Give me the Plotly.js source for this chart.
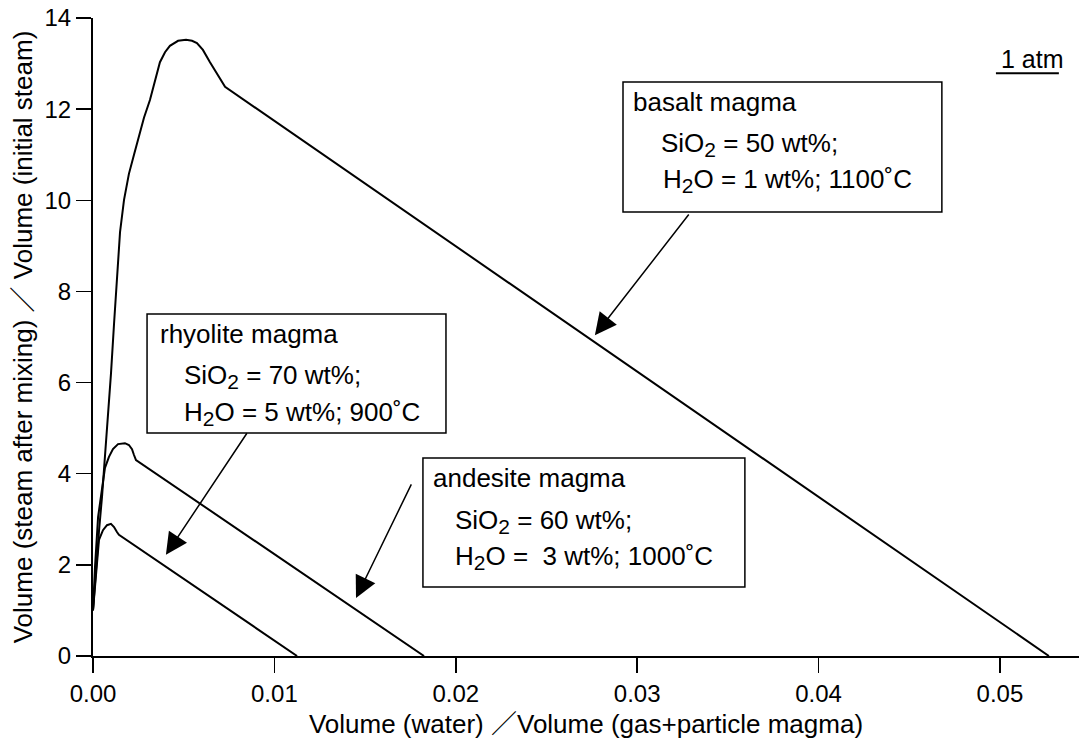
<!DOCTYPE html>
<html>
<head>
<meta charset="utf-8">
<script src="https://cdn.plot.ly/plotly-3.0.1.min.js"></script>
<style>html,body{margin:0;padding:0;background:#fff;}</style>
</head>
<body>
<div id="chart" style="width:1079px;height:747px;"></div>
<script>
// Basalt magma: SiO2 = 50 wt%, H2O = 1 wt%, 1100 C
const basaltX = [0, 0.000165, 0.00033, 0.0005, 0.00066, 0.00083, 0.00099, 0.00116, 0.00132, 0.00149, 0.00171, 0.00198, 0.00226, 0.00248, 0.00281, 0.00314, 0.00342, 0.00369, 0.00397, 0.00424, 0.00469, 0.00513, 0.00546, 0.00573, 0.00606, 0.00645, 0.00728, 0.0527];
const basaltY = [1.01, 1.98, 2.74, 3.51, 4.32, 5.18, 6.19, 7.29, 8.38, 9.30, 10.01, 10.58, 11.00, 11.32, 11.81, 12.20, 12.64, 13.03, 13.25, 13.39, 13.50, 13.52, 13.50, 13.45, 13.30, 13.03, 12.49, 0];

// Andesite magma: SiO2 = 60 wt%, H2O = 3 wt%, 1000 C
const andesiteX = [0, 0.00011, 0.00028, 0.0005, 0.00066, 0.00088, 0.0011, 0.00138, 0.00176, 0.00198, 0.00215, 0.00226, 0.00237, 0.01825];
const andesiteY = [1.0, 1.95, 3.05, 3.71, 4.13, 4.37, 4.54, 4.65, 4.67, 4.63, 4.54, 4.41, 4.30, 0];

// Rhyolite magma: SiO2 = 70 wt%, H2O = 5 wt%, 900 C
const rhyoliteX = [0, 0.00011, 0.00022, 0.00033, 0.00055, 0.00077, 0.00099, 0.00116, 0.00132, 0.00143, 0.01125];
const rhyoliteY = [1.0, 1.56, 2.11, 2.55, 2.76, 2.87, 2.90, 2.83, 2.72, 2.66, 0];

const xTickVals = [0, 0.01, 0.02, 0.03, 0.04, 0.05];
const xTickText = ['0.00', '0.01', '0.02', '0.03', '0.04', '0.05'];
const yTickVals = [0, 2, 4, 6, 8, 10, 12, 14];
const yTickText = ['0', '2', '4', '6', '8', '10', '12', '14'];

const SUB2 = '<sub><span style="font-size:21px">2</span></sub>';
const basaltLines = ['basalt magma', 'SiO' + SUB2 + ' = 50 wt%;', 'H' + SUB2 + 'O = 1 wt%; 1100˚C'];
const rhyoliteLines = ['rhyolite magma', 'SiO' + SUB2 + ' = 70 wt%;', 'H' + SUB2 + 'O = 5 wt%; 900˚C'];
const andesiteLines = ['andesite magma', 'SiO' + SUB2 + ' = 60 wt%;', 'H' + SUB2 + 'O =\u00a0 3 wt%; 1000˚C'];

const FONT = 'Liberation Sans, Arial, Helvetica, "Noto Sans CJK JP", sans-serif';
const lineStyle = {color: '#000', width: 2};

const traces = [
  {x: basaltX, y: basaltY, mode: 'lines', line: lineStyle, name: 'basalt', hoverinfo: 'skip'},
  {x: andesiteX, y: andesiteY, mode: 'lines', line: lineStyle, name: 'andesite', hoverinfo: 'skip'},
  {x: rhyoliteX, y: rhyoliteY, mode: 'lines', line: lineStyle, name: 'rhyolite', hoverinfo: 'skip'}
];

function textAnn(text, x, y) {
  return {text: text, x: x, y: y, xref: 'x', yref: 'y', xanchor: 'left', yanchor: 'middle',
          showarrow: false, font: {family: FONT, size: 26, color: '#000'}};
}
function arrowAnn(tipX, tipY, tailX, tailY) {
  return {text: '', x: tipX, y: tipY, ax: tailX, ay: tailY, xref: 'x', yref: 'y', axref: 'x', ayref: 'y',
          showarrow: true, arrowhead: 2, arrowsize: 2.9, arrowwidth: 1.5, arrowcolor: '#000', standoff: 0};
}

const annotations = [
  textAnn(basaltLines[0], 0.02966, 12.157),
  textAnn(basaltLines[1], 0.03120, 11.235),
  textAnn(basaltLines[2], 0.03131, 10.424),
  textAnn(rhyoliteLines[0], 0.00358, 7.066),
  textAnn(rhyoliteLines[1], 0.00491, 6.144),
  textAnn(rhyoliteLines[2], 0.00491, 5.332),
  textAnn(andesiteLines[0], 0.01863, 3.906),
  textAnn(andesiteLines[1], 0.01985, 2.962),
  textAnn(andesiteLines[2], 0.01985, 2.172),
  {text: '1 atm', x: 0.04995, y: 13.11, xref: 'x', yref: 'y', xanchor: 'left', yanchor: 'middle',
   showarrow: false, font: {family: FONT, size: 25, color: '#000'}},
  arrowAnn(0.02767, 7.04, 0.03291, 9.72),
  arrowAnn(0.00402, 2.22, 0.00854, 4.92),
  arrowAnn(0.0145, 1.27, 0.01759, 3.80)
];

const boxLine = {color: '#000', width: 1.5};
const shapes = [
  {type: 'rect', xref: 'x', yref: 'y', x0: 0.02922, x1: 0.04680, y0: 9.743, y1: 12.596, line: boxLine, fillcolor: 'rgba(0,0,0,0)'},
  {type: 'rect', xref: 'x', yref: 'y', x0: 0.00298, x1: 0.01946, y0: 4.894, y1: 7.505, line: boxLine, fillcolor: 'rgba(0,0,0,0)'},
  {type: 'rect', xref: 'x', yref: 'y', x0: 0.01819, x1: 0.03594, y0: 1.514, y1: 4.345, line: boxLine, fillcolor: 'rgba(0,0,0,0)'},
  {type: 'line', xref: 'x', yref: 'y', x0: 0.04978, x1: 0.05325, y0: 12.79, y1: 12.79, line: {color: '#000', width: 2}}
];

const layout = {
  width: 1079, height: 747,
  margin: {l: 93, r: 0, t: 18, b: 91, pad: 0},
  paper_bgcolor: '#fff', plot_bgcolor: '#fff',
  showlegend: false,
  font: {family: FONT, color: '#000'},
  xaxis: {
    range: [0, 0.05436], tickvals: xTickVals, ticktext: xTickText,
    ticks: 'outside', ticklen: 15, tickwidth: 1.5, tickcolor: '#000',
    showline: true, linewidth: 2, linecolor: '#000', showgrid: false, zeroline: false,
    tickfont: {family: FONT, size: 24, color: '#000'},
    title: {text: 'Volume (water) \uFF0FVolume (gas+particle magma)', font: {family: FONT, size: 26, color: '#000'}, standoff: 9}
  },
  yaxis: {
    range: [0, 14], tickvals: yTickVals, ticktext: yTickText,
    ticks: 'outside', ticklen: 15, tickwidth: 1.5, tickcolor: '#000',
    showline: true, linewidth: 2, linecolor: '#000', showgrid: false, zeroline: false,
    tickfont: {family: FONT, size: 24, color: '#000'},
    title: {text: 'Volume (steam after mixing) \uFF0F Volume (initial steam)', font: {family: FONT, size: 26, color: '#000'}, standoff: 4}
  },
  annotations: annotations,
  shapes: shapes
};

Plotly.newPlot('chart', traces, layout, {displayModeBar: false, staticPlot: true});
</script>
</body>
</html>
